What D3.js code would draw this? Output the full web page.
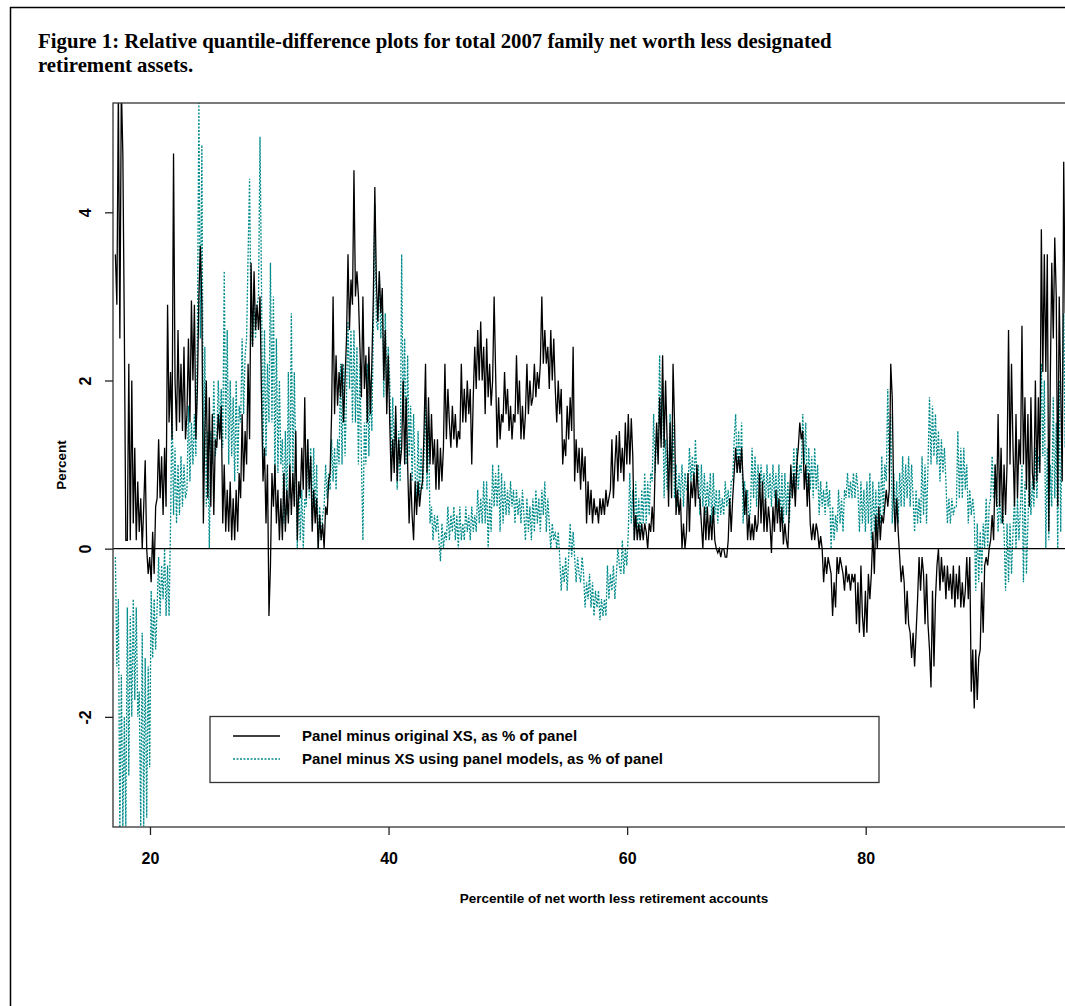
<!DOCTYPE html>
<html>
<head>
<meta charset="utf-8">
<script src="https://cdnjs.cloudflare.com/ajax/libs/d3/7.8.5/d3.min.js"></script>
<style>
  html, body { margin: 0; padding: 0; background: #fff; }
  svg { display: block; }
  .title { font-family: "Liberation Serif", "Times New Roman", serif; font-weight: bold; font-size: 20.8px; }
  .lab { font-family: "Liberation Sans", Arial, sans-serif; font-weight: bold; fill: #000; }
</style>
</head>
<body>
<svg id="chart" width="1065" height="1006"></svg>
<script>
// Percent differences, one value every 0.125 percentile starting at 17.1 (8 per row = 1 percentile)
const panelMinusXS = [
  3.5, 2.9, 5.5, 2.5, 5.5, 4.7, 2.6, 0.1,
  0.1, 2.2, 0.1, 2.0, 0.3, 1.2, 0.1, 0.8,
  0.2, 0.6, 0.0, 0.5, 1.05, 0.0, -0.3, -0.1,
  -0.4, 0.2, -0.3, 0.5, 0.6, 1.3, 0.6, 1.1,
  0.4, 1.2, 0.5, 2.9, 1.5, 2.1, 1.3, 4.7,
  2.0, 1.4, 2.6, 1.5, 2.2, 1.4, 2.4, 1.3,
  1.6, 2.5, 1.5, 2.95, 2.0, 2.9, 1.3, 1.9,
  3.0, 3.6, 2.9, 0.3, 1.4, 2.0, 0.6, 1.8,
  0.5, 1.6, 0.4, 1.3, 1.2, 1.6, 1.3, 1.7,
  0.3, 1.0, 0.2, 0.7, 0.2, 0.8, 0.1, 0.6,
  0.1, 0.7, 0.2, 0.9, 0.6, 1.6, 0.8, 1.4,
  1.0, 2.2, 1.3, 3.4, 2.4, 3.3, 2.6, 2.9,
  2.6, 3.0, 1.8, 0.8, 1.2, 0.3, 1.0, -0.8,
  -0.2, 0.9, 0.5, 1.0, 0.3, 0.7, 0.1, 0.6,
  0.1, 0.9, 0.2, 0.7, 0.3, 1.0, 0.4, 0.9,
  0.5, 1.4, 0.1, 0.8, 0.6, 1.2, 0.7, 1.8,
  0.6, 1.3, 0.7, 1.1, 0.2, 0.7, 0.3, 0.6,
  0.0, 0.4, 0.1, 0.3, 0.0, 0.5, 0.4, 0.8,
  0.9, 1.6, 3.0, 1.6, 2.3, 1.7, 2.1, 1.8,
  2.2, 1.5, 2.0, 2.5, 3.5, 2.6, 3.2, 2.9,
  4.5, 3.0, 3.3, 3.0, 2.4, 1.8, 3.0, 1.9,
  2.3, 1.5, 2.4, 1.6, 2.2, 3.0, 4.3, 3.2,
  2.7, 3.3, 2.8, 3.1, 2.0, 2.6, 1.6, 2.3,
  1.5, 0.8, 1.3, 0.9, 1.7, 0.8, 1.3, 1.0,
  1.2, 2.0, 1.0, 1.8, 1.0, 0.3, 0.9, 0.4,
  0.1, 0.8, 0.4, 0.8, 0.5, 0.7, 0.8, 1.4,
  2.2, 0.9, 1.8, 1.0, 1.6, 1.0, 1.3, 0.7,
  1.3, 0.7, 1.2, 0.8, 1.2, 2.2, 1.3, 1.9,
  1.5, 1.2, 1.7, 1.3, 1.6, 1.2, 1.4, 1.3,
  2.2, 1.5, 1.9, 1.5, 2.0, 1.6, 1.9, 1.0,
  1.8, 2.4, 1.9, 2.6, 2.0, 2.7, 2.0, 2.4,
  1.6, 2.5, 1.8, 2.2, 1.7, 2.0, 3.0, 2.1,
  1.2, 1.8, 1.3, 1.6, 1.5, 2.1, 1.6, 1.9,
  1.4, 1.7, 1.3, 1.6, 1.5, 2.3, 1.6, 2.0,
  1.3, 1.7, 1.3, 1.6, 2.2, 1.6, 2.0, 1.7,
  1.8, 2.2, 1.8, 2.1, 1.9, 2.2, 3.0, 2.2,
  2.6, 2.2, 2.4, 1.9, 2.6, 2.0, 2.5, 1.9,
  1.5, 2.0, 1.6, 1.9, 1.0, 1.3, 1.1, 1.7,
  1.3, 1.8, 1.4, 2.4, 0.8, 1.3, 0.9, 1.2,
  0.7, 1.2, 0.8, 1.1, 0.3, 0.8, 0.4, 0.7,
  0.3, 0.6, 0.4, 0.5, 0.3, 0.6, 0.4, 0.6,
  0.4, 0.7, 0.5, 0.6, 0.7, 1.3, 0.6, 1.0,
  1.35, 0.8, 1.4, 0.9, 1.2, 0.8, 1.5, 1.0,
  1.6, 1.0, 1.55, 1.1, 0.1, 0.4, 0.1, 0.3,
  0.1, 0.3, 0.1, 0.3, 0.2, 0.0, 0.3, 0.2,
  0.5, 0.2, 1.0, 1.5, 1.0, 1.8, 1.2, 2.3,
  1.2, 2.0, 1.3, 0.5, 1.5, 0.6, 2.2, 1.5,
  0.4, 0.7, 0.4, 0.6, 0.0, 0.3, 0.0, 0.2,
  0.9, 0.2, 0.8, 0.6, 0.9, 0.5, 1.0, 0.6,
  0.6, 0.3, 0.0, 0.5, 0.1, 0.5, 0.1, 0.4,
  0.1, 0.5, 0.1, 0.0, -0.05, 0.0, -0.1, 0.0,
  0.0, -0.1, -0.1, 0.1, 0.6, 0.2, 0.6, 0.9,
  1.2, 0.9, 1.1, 0.9, 1.2, 0.8, 0.4, 0.7,
  0.1, 0.4, 0.1, 0.3, 0.1, 0.4, 0.2, 0.3,
  0.9, 0.3, 0.8, 0.2, 0.6, 0.2, 0.5, 0.3,
  -0.05, 0.5, 0.2, 0.7, 0.3, 0.6, 0.2, 0.5,
  0.05, 0.3, 0.1, 0.0, 0.5, 1.0, 0.6, 0.9,
  0.5, 1.0, 1.2, 1.5, 1.3, 1.4, 0.7, 1.0,
  0.5, 0.9, 0.3, 0.1, 0.3, 0.1, 0.3, 0.2,
  0.0, 0.15, 0.0, -0.4, -0.1, -0.3, -0.1, -0.2,
  -0.3, -0.8, -0.4, -0.7, -0.1, -0.3, -0.1, -0.2,
  -0.3, -0.5, -0.2, -0.4, -0.3, -0.5, -0.3, -0.4,
  -0.3, -0.9, -0.4, -1.0, -0.2, -0.8, -1.05, -0.5,
  -1.0, -0.3, -0.6, -0.3, 0.2, -0.3, 0.4, 0.0,
  0.5, 0.1, 0.4, 0.3, 0.5, 0.7, 0.5, 0.7,
  2.2, 1.8, 0.6, 0.2, 0.6, 0.2, -0.1, -0.4,
  -0.2, -0.4, -0.9, -0.5, -0.9, -1.0, -1.3, -1.0,
  -1.4, -1.0, -0.6, -0.1, -0.5, -0.1, -0.3, -0.9,
  -0.3, -0.9, -1.2, -1.65, -0.5, -1.4, -0.6, -0.2,
  0.0, -0.5, -0.1, -0.4, -0.2, -0.6, -0.2, -0.5,
  -0.3, -0.6, -0.2, -0.7, -0.3, -0.6, -0.2, -0.7,
  -0.4, -0.7, -0.5, -0.1, -0.6, -0.1, -1.7, -1.2,
  -1.9, -1.2, -1.8, -1.3, -1.2, -0.4, -1.0, -0.2,
  -0.1, -0.2, 0.0, 0.1, 0.4, 0.1, 1.0, 0.5,
  1.6, 0.5, 1.2, 0.3, 1.0, 0.4, 1.0, 2.6,
  1.0, 2.2, 1.2, 0.5, 1.6, 0.6, 1.3, 1.0,
  2.65, 1.0, 1.8, 0.7, 1.6, 0.5, 1.8, 0.9,
  0.7, 2.0, 0.8, 1.8, 0.9, 3.8, 2.1, 3.5,
  2.1, 3.5, 0.2, 2.0, 3.4, 2.5, 3.7, 3.0,
  0.5, 3.0, 1.9, 0.8, 4.6, 2.8, 2.9, 2.6
];

const panelMinusXSModels = [
  -0.1, -1.4, -0.6, -3.4, -1.5, -3.3, -2.0, -3.3,
  -0.7, -2.7, -0.8, -2.0, -0.6, -1.8, -0.7, -2.0,
  -1.7, -3.3, -1.0, -3.3, -1.3, -3.2, -1.4, -2.6,
  -0.5, -1.3, -0.6, -1.2, -0.7, -0.1, -0.8, -0.2,
  -0.6, 0.0, -0.8, -0.2, -0.8, 0.3, 1.8, 0.4,
  1.2, 0.3, 1.0, 0.4, 1.1, 0.5, 1.0, 0.6,
  0.7, 1.7, 0.8, 1.5, 1.0, 1.6, 1.1, 2.5,
  5.3, 2.5, 4.8, 0.9, 2.4, 0.5, 1.4, 0.0,
  1.4, 1.0, 2.0, 1.1, 1.3, 2.0, 1.4, 1.9,
  1.2, 3.3, 1.3, 2.6, 1.0, 2.0, 1.1, 1.8,
  0.8, 2.0, 0.9, 1.7, 1.5, 2.5, 1.6, 2.3,
  2.5, 3.5, 4.4, 2.6, 2.4, 3.0, 2.5, 2.9,
  3.0, 4.9, 3.1, 1.0, 2.6, 1.1, 2.2, 1.5,
  3.4, 1.5, 3.0, 0.8, 2.5, 0.9, 2.0, 1.0,
  1.3, 0.3, 1.4, 0.4, 2.1, 0.6, 2.8, 0.8,
  2.1, 1.0, 0.0, 0.8, 0.1, 0.7, 0.0, 0.6,
  0.5, 1.3, 0.6, 1.2, 0.3, 1.2, 0.4, 1.0,
  0.0, 0.5, 0.1, 0.4, 0.5, 1.0, 0.6, 0.9,
  0.7, 1.3, 0.8, 1.2, 0.7, 1.3, 1.0, 2.2,
  1.0, 2.2, 1.1, 1.8, 2.7, 1.9, 2.6, 1.5,
  2.6, 1.5, 2.4, 1.0, 2.2, 1.1, 0.1, 1.5,
  1.0, 2.2, 1.1, 2.0, 1.4, 2.6, 4.1, 2.7,
  2.6, 3.3, 2.5, 3.0, 1.8, 2.8, 1.9, 2.4,
  2.0, 1.0, 1.8, 1.1, 1.6, 0.7, 1.4, 0.8,
  3.5, 1.5, 2.5, 1.0, 2.3, 1.1, 1.7, 0.8,
  1.6, 0.9, 0.5, 1.4, 0.6, 1.2, 0.7, 1.1,
  1.8, 0.7, 1.6, 0.3, 0.5, 0.1, 0.4, 0.2,
  0.4, 0.1, -0.15, 0.3, 0.0, 0.2, 0.1, 0.5,
  0.1, 0.4, 0.2, 0.5, 0.1, 0.4, 0.0, 0.5,
  0.1, 0.3, 0.1, 0.5, 0.2, 0.4, 0.1, 0.5,
  0.2, 0.4, 0.2, 0.7, 0.3, 0.6, 0.3, 0.8,
  0.3, 0.8, 0.0, 0.6, 0.2, 1.0, 0.5, 0.9,
  0.5, 1.0, 0.2, 0.9, 0.3, 0.8, 0.4, 0.7,
  0.4, 0.8, 0.5, 0.7, 0.3, 0.7, 0.4, 0.6,
  0.3, 0.7, 0.4, 0.1, 0.6, 0.2, 0.5, 0.1,
  0.6, 0.2, 0.7, 0.3, 0.6, 0.2, 0.7, 0.4,
  0.8, 0.2, 0.6, 0.3, 0.0, 0.3, 0.1, 0.2,
  0.0, 0.2, -0.1, -0.5, -0.2, -0.4, -0.1, -0.5,
  -0.1, 0.3, -0.1, 0.2, -0.1, -0.4, -0.1, -0.3,
  -0.4, -0.1, -0.3, -0.7, -0.4, -0.6, -0.3, -0.7,
  -0.4, -0.8, -0.5, -0.7, -0.5, -0.85, -0.6, -0.8,
  -0.6, -0.8, -0.2, -0.6, -0.3, -0.5, -0.2, -0.6,
  -0.3, 0.0, -0.2, -0.3, 0.1, -0.3, 0.0, -0.2,
  0.2, 0.9, 0.3, 0.7, 0.1, 0.8, 0.2, 0.6,
  0.1, 0.7, 0.3, 0.9, 0.3, 0.8, 0.4, 0.9,
  0.8, 1.6, 0.9, 1.4, 1.2, 2.3, 1.3, 2.0,
  0.6, 1.3, 0.7, 0.8, 1.6, 0.9, 1.5, 0.6,
  1.0, 0.5, 0.9, 0.6, 1.0, 0.5, 0.9, 0.7,
  0.7, 1.2, 0.8, 1.1, 0.7, 1.3, 0.8, 1.0,
  0.4, 1.0, 0.5, 0.9, 0.4, 0.8, 0.5, 0.9,
  0.3, 0.9, 0.4, 0.7, 0.3, 0.7, 0.4, 0.6,
  0.4, 0.8, 0.5, 0.7, 0.4, 0.8, 0.8, 1.3,
  1.6, 0.9, 1.4, 0.9, 1.5, 0.3, 0.8, 0.4,
  0.7, 0.3, 0.5, 1.2, 0.6, 1.1, 0.5, 1.0,
  0.6, 1.0, 0.7, 0.9, 0.5, 1.0, 0.6, 0.9,
  0.5, 1.0, 0.6, 0.9, 0.5, 1.0, 0.3, 0.9,
  0.3, 0.9, 0.4, 0.8, 0.3, 0.9, 0.6, 1.2,
  0.6, 1.2, 0.7, 1.0, 0.9, 1.6, 1.0, 1.5,
  0.6, 1.2, 0.7, 1.1, 0.6, 1.2, 0.7, 1.0,
  0.4, 0.8, 0.5, 0.7, 0.4, 0.8, 0.5, 0.7,
  0.0, 0.5, 0.1, 0.4, 0.2, 0.7, 0.3, 0.6,
  0.2, 0.7, 0.6, 0.9, 0.6, 0.8, 0.6, 0.9,
  0.6, 0.9, 0.7, 0.2, 0.8, 0.3, 0.7, 0.2,
  0.8, 0.3, 0.9, 0.1, 0.8, 0.2, 0.7, 0.1,
  0.8, 0.3, 1.1, 0.4, 1.0, 0.8, 1.9, 0.9,
  1.6, 0.3, 0.9, 0.4, 0.8, 0.3, 0.9, 0.5,
  1.1, 0.5, 1.0, 0.6, 1.1, 0.5, 1.0, 0.6,
  0.2, 0.7, 0.3, 0.6, 0.3, 1.1, 0.4, 1.0,
  0.3, 1.0, 1.8, 1.0, 1.7, 1.1, 1.6, 1.0,
  1.4, 0.8, 1.3, 0.9, 1.2, 0.8, 0.3, 0.6,
  0.3, 0.6, 0.4, 0.5, 0.5, 1.4, 0.6, 1.2,
  0.6, 1.2, 0.7, 1.0, 0.3, 0.7, 0.4, 0.6,
  0.4, -0.5, 0.3, -0.4, 0.2, -0.3, 0.3, 0.0,
  0.6, 0.0, 0.5, 0.6, 1.1, 0.6, 1.0, 0.7,
  0.2, 0.6, 0.3, 0.5, 0.2, -0.5, 0.3, -0.4,
  0.3, -0.3, 0.2, 0.6, 0.0, 0.6, 0.1, 0.5,
  1.0, -0.4, 0.8, -0.3, 0.3, 0.9, 0.4, 0.8,
  0.5, 1.2, 0.6, 1.1, 1.0, 2.2, 1.1, 2.0,
  0.0, 1.2, 0.1, 1.0, 0.5, 1.8, 0.6, 1.5,
  0.0, 2.0, 0.2, 1.7, 2.8, 1.2, 2.5, 1.0
];

const pctStart = 17.1;
const pctStep = 0.125;
const percentiles = panelMinusXS.map((d, i) => pctStart + i * pctStep);

const xTicks = [20, 40, 60, 80];
const yTicks = [-2, 0, 2, 4];
const legendLabels = [
  'Panel minus original XS, as % of panel',
  'Panel minus XS using panel models, as % of panel'
];
const seriesColours = ['#000000', '#008b8b'];

const svg = d3.select('#chart');

// Page frame and caption
svg.append('path')
  .attr('d', 'M10.5,1006 V7.5 H1065')
  .attr('fill', 'none')
  .attr('stroke', '#000')
  .attr('stroke-width', 1.5);

svg.append('text').attr('class', 'title').attr('x', 38).attr('y', 48)
  .text('Figure 1: Relative quantile-difference plots for total 2007 family net worth less designated');
svg.append('text').attr('class', 'title').attr('x', 38).attr('y', 72)
  .text('retirement assets.');

// Plot region (right side runs off the page)
const plot = { left: 113, top: 103, right: 1115, bottom: 827 };

const x = d3.scaleLinear().domain([16.9, 100.9]).range([plot.left, plot.right]);
const y = d3.scaleLinear().domain([-3.31, 5.30]).range([plot.bottom, plot.top]);

svg.append('clipPath').attr('id', 'clip')
  .append('rect')
  .attr('x', plot.left).attr('y', plot.top)
  .attr('width', plot.right - plot.left).attr('height', plot.bottom - plot.top);

const data = svg.append('g').attr('clip-path', 'url(#clip)');

const line = d3.line()
  .x((d) => x(d[0]))
  .y((d) => y(d[1]));

data.append('path')
  .datum(percentiles.map((p, i) => [p, panelMinusXSModels[i]]))
  .attr('d', line)
  .attr('fill', 'none')
  .attr('stroke', seriesColours[1])
  .attr('stroke-width', 1.3)
  .attr('stroke-dasharray', '2 1.5');

data.append('path')
  .datum(percentiles.map((p, i) => [p, panelMinusXS[i]]))
  .attr('d', line)
  .attr('fill', 'none')
  .attr('stroke', seriesColours[0])
  .attr('stroke-width', 1.3);

// zero reference line
data.append('line')
  .attr('x1', plot.left).attr('x2', plot.right)
  .attr('y1', y(0)).attr('y2', y(0))
  .attr('stroke', '#000').attr('stroke-width', 1.3);

// plot box
svg.append('rect')
  .attr('x', plot.left).attr('y', plot.top)
  .attr('width', plot.right - plot.left).attr('height', plot.bottom - plot.top)
  .attr('fill', 'none').attr('stroke', '#333').attr('stroke-width', 1.3);

// Axes
const xAxis = svg.append('g')
  .attr('transform', `translate(0, ${plot.bottom})`)
  .call(d3.axisBottom(x).tickValues(xTicks).tickSize(8).tickSizeOuter(0).tickPadding(18));
xAxis.select('.domain').remove();
xAxis.selectAll('line').attr('stroke', '#222').attr('stroke-width', 1.3);
xAxis.selectAll('text').attr('class', 'lab').style('font-size', '16px').attr('fill', '#000');

// R prints a plain hyphen for negatives
const yAxis = svg.append('g')
  .attr('transform', `translate(${plot.left}, 0)`)
  .call(d3.axisLeft(y).tickValues(yTicks).tickSize(8).tickSizeOuter(0).tickFormat((d) => String(d)));
yAxis.select('.domain').remove();
yAxis.selectAll('line').attr('stroke', '#222').attr('stroke-width', 1.3);
yAxis.selectAll('text')
  .attr('class', 'lab')
  .style('font-size', '16px')
  .attr('fill', '#000')
  .attr('x', null).attr('dy', null)
  .attr('text-anchor', 'middle')
  .attr('transform', 'translate(-22, 0) rotate(-90)');

// Axis titles
svg.append('text').attr('class', 'lab')
  .attr('x', (plot.left + plot.right) / 2).attr('y', 903)
  .attr('text-anchor', 'middle').style('font-size', '13.5px')
  .text('Percentile of net worth less retirement accounts');

svg.append('text').attr('class', 'lab')
  .attr('transform', `translate(66, ${(plot.top + plot.bottom) / 2}) rotate(-90)`)
  .attr('text-anchor', 'middle').style('font-size', '13.5px')
  .text('Percent');

// Legend
const legend = svg.append('g').attr('transform', 'translate(210, 716.5)');
legend.append('rect')
  .attr('width', 669).attr('height', 66)
  .attr('fill', '#fff').attr('stroke', '#333').attr('stroke-width', 1.3);

const items = legend.selectAll('g.item').data(legendLabels).join('g')
  .attr('class', 'item')
  .attr('transform', (d, i) => `translate(0, ${19.5 + i * 23})`);

items.append('line')
  .attr('x1', 23).attr('x2', 70)
  .attr('stroke', (d, i) => seriesColours[i])
  .attr('stroke-width', 1.4)
  .attr('stroke-dasharray', (d, i) => i ? '2 1.5' : null);

items.append('text').attr('class', 'lab')
  .attr('x', 92).attr('dy', '0.35em')
  .style('font-size', '15px')
  .text((d) => d);
</script>
</body>
</html>
